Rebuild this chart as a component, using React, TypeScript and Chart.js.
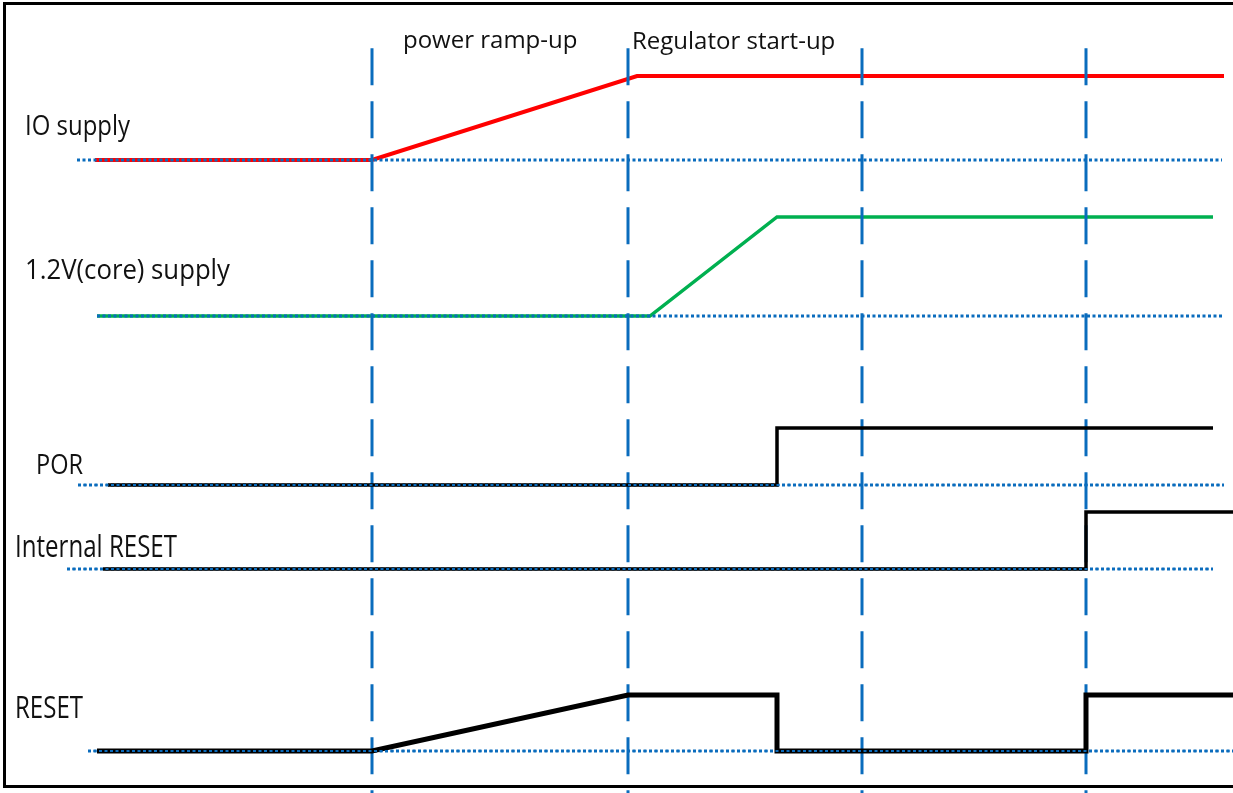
import { useEffect, useRef } from "react";
import { Chart, registerables } from "chart.js";

Chart.register(...registerables);

// ---- time axis (arbitrary time units) ----
const T_MIN = 0;
const T_MAX = 123.3;
const Y_MIN = 0;
const Y_MAX = 100;

// phase markers (vertical dashed lines)
const markerTimes = [37.2, 62.8, 86.2, 108.6];
const markerTop = 93.9;
const markerBottom = -1;

// signal lanes
const laneNames = ["IO supply", "1.2V(core) supply", "POR", "Internal RESET", "RESET"];
const laneLow = [79.82, 60.15, 38.84, 28.25, 5.3];
const laneHigh = [90.42, 72.64, 46.03, 35.44, 12.36];
const baseStart = [7.7, 9.7, 7.8, 6.7, 8.8];
const baseEnd = [122.2, 122.2, 122.4, 121.3, 123.3];

// signal waveforms (time, logic level 0..1)
const ioTimes = [9.5, 37.2, 63.7, 122.4];
const ioLevels = [0, 0, 1, 1];
const coreTimes = [9.7, 65.0, 77.7, 121.3];
const coreLevels = [0, 0, 1, 1];
const porTimes = [10.8, 77.7, 77.7, 121.3];
const porLevels = [0, 0, 1, 1];
const intResetTimes = [10.3, 108.6, 108.6, 123.3];
const intResetLevels = [0, 0, 1, 1];
const resetTimes = [9.7, 37.2, 62.8, 77.7, 77.7, 108.6, 108.6, 123.3];
const resetLevels = [0, 0, 1, 1, 0, 0, 1, 1];

// label anchors (time, level)
const laneLabelX = [2.5, 2.5, 3.6, 1.5, 1.5];
const laneLabelY = [82.98, 64.82, 40.23, 29.76, 9.46];
const phaseLabels = ["power ramp-up", "Regulator start-up"];
const phaseLabelX = [40.3, 63.2];
const phaseLabelY = [93.95, 93.82];

const signalColors = ["#ff0000", "#00b050", "#000000", "#000000", "#000000"];
const signalWidths = [4, 3.5, 3.5, 3.5, 5];
const signalOrder = [2, 2, -1, -1, -1];
const laneFontSizes = [28, 28, 28, 31, 31];
const laneLabelWidths = [105, 205, 47, 162, 68];
const phaseLabelWidths = [176, 206];

const BLUE = "#0a6cbd";

function wave(times: number[], levels: number[], lane: number) {
  return times.map((t, i) => ({
    x: t,
    y: laneLow[lane] + levels[i] * (laneHigh[lane] - laneLow[lane]),
  }));
}

const labelPlugin = {
  id: "timingLabels",
  afterDatasetsDraw(chart: any) {
    const { ctx, scales } = chart;
    const xs = scales.x;
    const ys = scales.y;
    ctx.save();
    ctx.fillStyle = "#111111";
    ctx.textBaseline = "alphabetic";
    ctx.textAlign = "left";
    laneNames.forEach((name, i) => {
      ctx.font = `${laneFontSizes[i]}px "Open Sans"`;
      ctx.fillText(
        name,
        xs.getPixelForValue(laneLabelX[i]),
        ys.getPixelForValue(laneLabelY[i]),
        laneLabelWidths[i]
      );
    });
    phaseLabels.forEach((name, i) => {
      ctx.font = `24px "Open Sans"`;
      ctx.fillText(
        name,
        xs.getPixelForValue(phaseLabelX[i]),
        ys.getPixelForValue(phaseLabelY[i]),
        phaseLabelWidths[i]
      );
    });
    ctx.restore();
  },
};

export default function App() {
  const ref = useRef<HTMLCanvasElement>(null);

  useEffect(() => {
    if (!ref.current) return;
    const waves = [
      wave(ioTimes, ioLevels, 0),
      wave(coreTimes, coreLevels, 1),
      wave(porTimes, porLevels, 2),
      wave(intResetTimes, intResetLevels, 3),
      wave(resetTimes, resetLevels, 4),
    ];
    const datasets: any[] = [];
    markerTimes.forEach((t) => {
      datasets.push({
        data: [
          { x: t, y: markerTop },
          { x: t, y: markerBottom },
        ],
        borderColor: BLUE,
        borderWidth: 3,
        borderDash: [37, 16],
        borderCapStyle: "butt",
        pointRadius: 0,
        order: 0,
      });
    });
    laneLow.forEach((lv, i) => {
      datasets.push({
        data: [
          { x: baseStart[i], y: lv },
          { x: baseEnd[i], y: lv },
        ],
        borderColor: BLUE,
        borderWidth: 3,
        borderDash: [3, 2.5],
        borderCapStyle: "butt",
        pointRadius: 0,
        order: 1,
      });
    });
    waves.forEach((w, i) => {
      datasets.push({
        data: w,
        borderColor: signalColors[i],
        borderWidth: signalWidths[i],
        borderJoinStyle: "miter",
        borderCapStyle: "butt",
        pointRadius: 0,
        tension: 0,
        order: signalOrder[i],
      });
    });
    // dotted baselines are drawn over the black signal lows
    laneLow.forEach((lv, i) => {
      if (i < 2) return;
      datasets.push({
        data: [
          { x: baseStart[i], y: lv },
          { x: baseEnd[i], y: lv },
        ],
        borderColor: BLUE,
        borderWidth: 2,
        borderDash: [3, 2.5],
        borderCapStyle: "butt",
        pointRadius: 0,
        order: -2,
      });
    });

    const chart = new Chart(ref.current, {
      type: "line",
      data: { datasets },
      options: {
        animation: false,
        responsive: false,
        maintainAspectRatio: false,
        layout: { padding: 0 },
        plugins: {
          legend: { display: false },
          tooltip: { enabled: false },
        },
        events: [],
        scales: {
          x: { type: "linear", min: T_MIN, max: T_MAX, display: false },
          y: { type: "linear", min: Y_MIN, max: Y_MAX, display: false },
        },
      },
      plugins: [labelPlugin],
    });
    return () => chart.destroy();
  }, []);

  return (
    <div
      style={{
        position: "fixed",
        left: 0,
        top: 0,
        width: 1233,
        height: 793,
        background: "#ffffff",
        overflow: "hidden",
      }}
    >
      <div
        style={{
          position: "absolute",
          left: 3,
          top: 2,
          width: 1240,
          height: 786,
          borderLeft: "3px solid #000",
          borderTop: "3px solid #000",
          borderBottom: "3px solid #000",
          boxSizing: "border-box",
        }}
      />
      <canvas
        ref={ref}
        width={1233}
        height={793}
        style={{ position: "absolute", left: 0, top: 0, width: 1233, height: 793 }}
      />
    </div>
  );
}
